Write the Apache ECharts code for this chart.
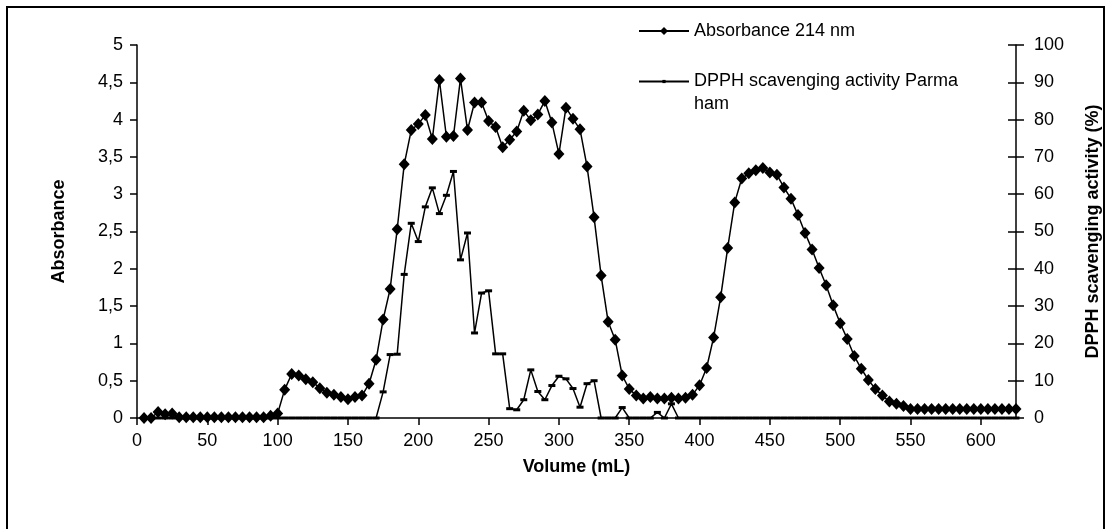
<!DOCTYPE html>
<html>
<head>
<meta charset="utf-8">
<script src="https://cdn.jsdelivr.net/npm/echarts@6/dist/echarts.min.js"></script>
<style>
html,body{margin:0;padding:0;background:#fff;}
#chart{width:1110px;height:529px;}
</style>
</head>
<body>
<div id="chart"></div>
<script>
// Volume (mL), every 5 mL from 5 to 625
const volume = [];
for (let v = 5; v <= 625; v += 5) volume.push(v);

// Absorbance 214 nm
const absorbance = [
  0.00, 0.00, 0.08, 0.05, 0.06, 0.01, 0.01, 0.01, 0.01, 0.01, // 5-50
  0.01, 0.01, 0.01, 0.01, 0.01, 0.01, 0.01, 0.01, 0.03, 0.06, // 55-100
  0.38, 0.59, 0.57, 0.52, 0.48, 0.40, 0.34, 0.31, 0.28, 0.25, // 105-150
  0.28, 0.30, 0.46, 0.78, 1.32, 1.73, 2.53, 3.40, 3.86, 3.94, // 155-200
  4.06, 3.74, 4.53, 3.77, 3.78, 4.55, 3.86, 4.23, 4.23, 3.98, // 205-250
  3.90, 3.63, 3.73, 3.84, 4.12, 3.99, 4.07, 4.25, 3.96, 3.54, // 255-300
  4.16, 4.01, 3.87, 3.37, 2.69, 1.91, 1.29, 1.05, 0.57, 0.39, // 305-350
  0.30, 0.26, 0.28, 0.26, 0.26, 0.27, 0.26, 0.27, 0.31, 0.44, // 355-400
  0.67, 1.08, 1.62, 2.28, 2.89, 3.21, 3.28, 3.32, 3.35, 3.29, // 405-450
  3.26, 3.09, 2.94, 2.72, 2.48, 2.26, 2.01, 1.78, 1.51, 1.27, // 455-500
  1.06, 0.83, 0.66, 0.51, 0.39, 0.30, 0.22, 0.19, 0.16, 0.12, // 505-550
  0.12, 0.12, 0.12, 0.12, 0.12, 0.12, 0.12, 0.12, 0.12, 0.12, // 555-600
  0.12, 0.12, 0.12, 0.12, 0.12                                 // 605-625
];

// DPPH scavenging activity Parma ham (%)
const dpph = [
  0, 0, 0, 0, 0, 0, 0, 0, 0, 0,                                // 5-50
  0, 0, 0, 0, 0, 0, 0, 0, 0, 0,                                // 55-100
  0, 0, 0, 0, 0, 0, 0, 0, 0, 0,                                // 105-150
  0, 0, 0, 0, 7.0, 17.0, 17.1, 38.5, 52.2, 47.3,               // 155-200
  56.6, 61.7, 54.8, 59.7, 66.1, 42.4, 49.6, 22.8, 33.5, 34.1,  // 205-250
  17.2, 17.2, 2.5, 2.2, 4.9, 12.9, 7.1, 4.9, 8.7, 11.2,        // 255-300
  10.5, 7.9, 2.9, 9.2, 10.0, 0, 0, 0, 2.8, 0,                  // 305-350
  0, 0, 0, 1.5, 0, 3.8, 0, 0, 0, 0,                            // 355-400
  0, 0, 0, 0, 0, 0, 0, 0, 0, 0,                                // 405-450
  0, 0, 0, 0, 0, 0, 0, 0, 0, 0,                                // 455-500
  0, 0, 0, 0, 0, 0, 0, 0, 0, 0,                                // 505-550
  0, 0, 0, 0, 0, 0, 0, 0, 0, 0,                                // 555-600
  0, 0, 0, 0, 0                                                // 605-625
];

const seriesNames = ['Absorbance 214 nm', 'DPPH scavenging activity Parma ham'];
const xRange = [0, 625, 50];
const yLeftRange = [0, 5, 0.5];
const yRightRange = [0, 100, 10];

const FONT = 'Liberation Sans, Arial, sans-serif';
const chart = echarts.init(document.getElementById('chart'), null, {renderer: 'canvas'});

const absData = volume.map((v, i) => [v, absorbance[i]]);
const dpphData = volume.map((v, i) => [v, dpph[i]]);

const baseText = {color: '#000', fontFamily: FONT, fontSize: 18};

chart.setOption({
  animation: false,
  backgroundColor: '#fff',
  grid: {left: 137, right: 93, top: 45, bottom: 111, containLabel: false},
  graphic: [{
    type: 'rect', shape: {x: 7, y: 7, width: 1097, height: 540},
    style: {fill: 'none', stroke: '#000', lineWidth: 2}, silent: true, z: -1
  }],
  legend: [{
    data: [seriesNames[0]],
    orient: 'vertical', left: 638, top: 22, padding: 0,
    itemWidth: 50, itemHeight: 10,
    textStyle: Object.assign({}, baseText)
  }, {
    data: [seriesNames[1]],
    orient: 'vertical', left: 638, top: 47, padding: 0,
    itemWidth: 50, itemHeight: 4,
    formatter: () => ' \nDPPH scavenging activity Parma\nham',
    textStyle: Object.assign({}, baseText, {lineHeight: 23})
  }],
  xAxis: {
    type: 'value', min: xRange[0], max: xRange[1], interval: xRange[2],
    name: 'Volume (mL)', nameLocation: 'middle', nameGap: 40,
    nameTextStyle: Object.assign({}, baseText, {fontWeight: 'bold'}),
    axisLine: {show: true, onZero: false, lineStyle: {color: '#000', width: 1.5}},
    axisTick: {show: true, inside: false, length: 7, lineStyle: {color: '#000', width: 1.5}},
    axisLabel: Object.assign({}, baseText, {margin: 14, showMaxLabel: false}),
    splitLine: {show: false}
  },
  yAxis: [{
    type: 'value', position: 'left', min: yLeftRange[0], max: yLeftRange[1], interval: yLeftRange[2],
    name: 'Absorbance', nameLocation: 'middle', nameGap: 69, nameRotate: 90,
    nameTextStyle: Object.assign({}, baseText, {fontWeight: 'bold'}),
    axisLine: {show: true, lineStyle: {color: '#000', width: 1.5}},
    axisTick: {show: true, inside: false, length: 7, lineStyle: {color: '#000', width: 1.5}},
    axisLabel: Object.assign({}, baseText, {margin: 14, formatter: v => String(v).replace('.', ',')}),
    splitLine: {show: false}
  }, {
    type: 'value', position: 'right', min: yRightRange[0], max: yRightRange[1], interval: yRightRange[2],
    name: 'DPPH scavenging activity (%)', nameLocation: 'middle', nameGap: 68, nameRotate: 90,
    nameTextStyle: Object.assign({}, baseText, {fontWeight: 'bold'}),
    axisLine: {show: true, lineStyle: {color: '#000', width: 1.5}},
    axisTick: {show: true, inside: true, length: 8, lineStyle: {color: '#000', width: 1.5}},
    axisLabel: Object.assign({}, baseText, {margin: 18}),
    splitLine: {show: false}
  }, {
    type: 'value', position: 'right', min: yRightRange[0], max: yRightRange[1], interval: yRightRange[2],
    axisLine: {show: false},
    axisTick: {show: true, inside: false, length: 8, lineStyle: {color: '#000', width: 1.5}},
    axisLabel: {show: false},
    splitLine: {show: false}
  }],
  series: [{
    name: seriesNames[0], type: 'line', yAxisIndex: 0, data: absData,
    symbol: 'diamond', symbolSize: [11, 12], showAllSymbol: true,
    lineStyle: {color: '#000', width: 1.5},
    itemStyle: {color: '#000', borderWidth: 0},
    z: 3
  }, {
    name: seriesNames[1], type: 'line', yAxisIndex: 1, data: dpphData,
    symbol: 'rect', symbolSize: [7, 3], showAllSymbol: true,
    lineStyle: {color: '#000', width: 1.5},
    itemStyle: {color: '#000', borderWidth: 0},
    z: 2
  }]
});
</script>
</body>
</html>
